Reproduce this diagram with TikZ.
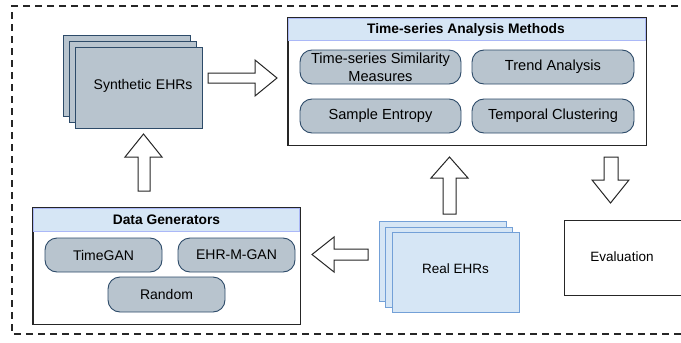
\documentclass[tikz,border=0pt]{standalone}
\usepackage{fontspec}
\setmainfont{Liberation Sans}
\definecolor{grayblue}{RGB}{184,196,206}
\definecolor{darkedge}{RGB}{45,75,105}
\definecolor{lightblue}{RGB}{214,230,245}
\definecolor{blueedge}{RGB}{115,160,215}
\tikzset{
  txt/.style={font=\fontsize{13.5}{17}\selectfont, align=center},
  sheet/.style={draw=darkedge, fill=grayblue, line width=0.9pt, minimum width=127pt, minimum height=81pt, inner sep=0pt},
  realsheet/.style={draw=blueedge, fill=lightblue, line width=0.9pt, minimum width=127pt, minimum height=80pt, inner sep=0pt},
  method/.style={draw=darkedge, fill=grayblue, line width=0.9pt, rounded corners=12pt, minimum height=34pt, inner sep=0pt, align=center, font=\fontsize{14.6}{18}\selectfont},
  genbox/.style={method, font=\fontsize{14}{17}\selectfont},
  panel/.style={draw=black!85, line width=0.9pt, inner sep=0pt},
  header/.style={fill=lightblue, draw=lightblue!80!blue, line width=0.5pt, inner sep=0pt},
  fatarrow/.style={draw=black!85, fill=white, line width=1pt, line join=miter},
  frame/.style={line width=1.8pt, dash pattern=on 7pt off 5pt, black!85}
}
\begin{document}
\begin{tikzpicture}[x=1pt,y=-1pt]
\useasboundingbox (0,0) rectangle (681,343);
\clip (0,0) rectangle (681,343);
% outer dashed frame
\draw[frame] (690,6) -- (12,6) -- (12,334) -- (690,334);

% Synthetic EHRs stack
\node[sheet] (synA) at (126.5,76) {};
\node[sheet] (synB) at (132.5,81.5) {};
\node[sheet, text width=108pt, align=right, font=\fontsize{14}{17}\selectfont] (syn) at (138.5,87.5) {\raisebox{6pt}{Synthetic EHRs}};

% Time-series Analysis Methods panel
\node[panel, minimum width=358pt, minimum height=127pt] (tsa) at (467,81.5) {};
\node[header, minimum width=357pt, minimum height=22pt] (tsahead) at (467,29.5) {};
\draw[black!85, line width=0.9pt] (tsa.north west) rectangle (tsa.south east);
\node[txt, font=\fontsize{13.8}{17}\selectfont\bfseries] (tsatitle) at (466,29.5) {Time-series Analysis Methods};
\node[method, minimum width=161pt] (tss) at (380.5,67) {Time-series Similarity\\Measures};
\node[method, minimum width=162pt] (trend) at (553,67) {Trend Analysis};
\node[method, minimum width=161pt] (sampen) at (380.5,116) {Sample Entropy};
\node[method, minimum width=162pt] (tclust) at (553,116) {Temporal Clustering};

% Data Generators panel
\node[panel, minimum width=267pt, minimum height=116pt] (dg) at (166.5,266) {};
\node[header, minimum width=266pt, minimum height=23pt] (dghead) at (166.5,220) {};
\draw[black!85, line width=0.9pt] (dg.north west) rectangle (dg.south east);
\node[txt, font=\fontsize{13.8}{17}\selectfont\bfseries] (dgtitle) at (166.5,220) {Data Generators};
\node[genbox, minimum width=117pt] (timegan) at (103.5,255) {TimeGAN};
\node[genbox, minimum width=117pt] (ehrmgan) at (236.5,255) {EHR-M-GAN};
\node[genbox, minimum width=117pt, minimum height=35pt] (random) at (166.5,294.5) {Random};

% Real EHRs stack
\node[realsheet] (realA) at (443,261) {};
\node[realsheet] (realB) at (449,267) {};
\node[realsheet, txt] (real) at (455.5,272) {\raisebox{7pt}{Real EHRs}};

% Evaluation
\node[draw=black!85, line width=1pt, minimum width=120pt, minimum height=75pt, inner sep=0pt] (eval) at (624,257.5) {};
\node[txt] (evaltxt) at (622,257) {Evaluation};

% block arrows
% Synthetic -> Time-series Analysis
\draw[fatarrow] (208,73) -- (255,73) -- (255,60) -- (277,78) -- (255,96) -- (255,83) -- (208,83) -- cycle;
% Data Generators -> Synthetic
\draw[fatarrow] (138,191) -- (138,157) -- (125,157) -- (143.5,134) -- (162,157) -- (150,157) -- (150,191) -- cycle;
% Real -> Time-series Analysis
\draw[fatarrow] (443,214) -- (443,178) -- (431,178) -- (449.5,157) -- (468,178) -- (456,178) -- (456,214) -- cycle;
% Time-series Analysis -> Evaluation
\draw[fatarrow] (604,157) -- (604,180) -- (592,180) -- (610.5,203) -- (629,180) -- (618,180) -- (618,157) -- cycle;
% Real -> Data Generators
\draw[fatarrow] (368,249) -- (334,249) -- (334,237) -- (312,254.5) -- (334,272) -- (334,260) -- (368,260) -- cycle;
\end{tikzpicture}
\end{document}
